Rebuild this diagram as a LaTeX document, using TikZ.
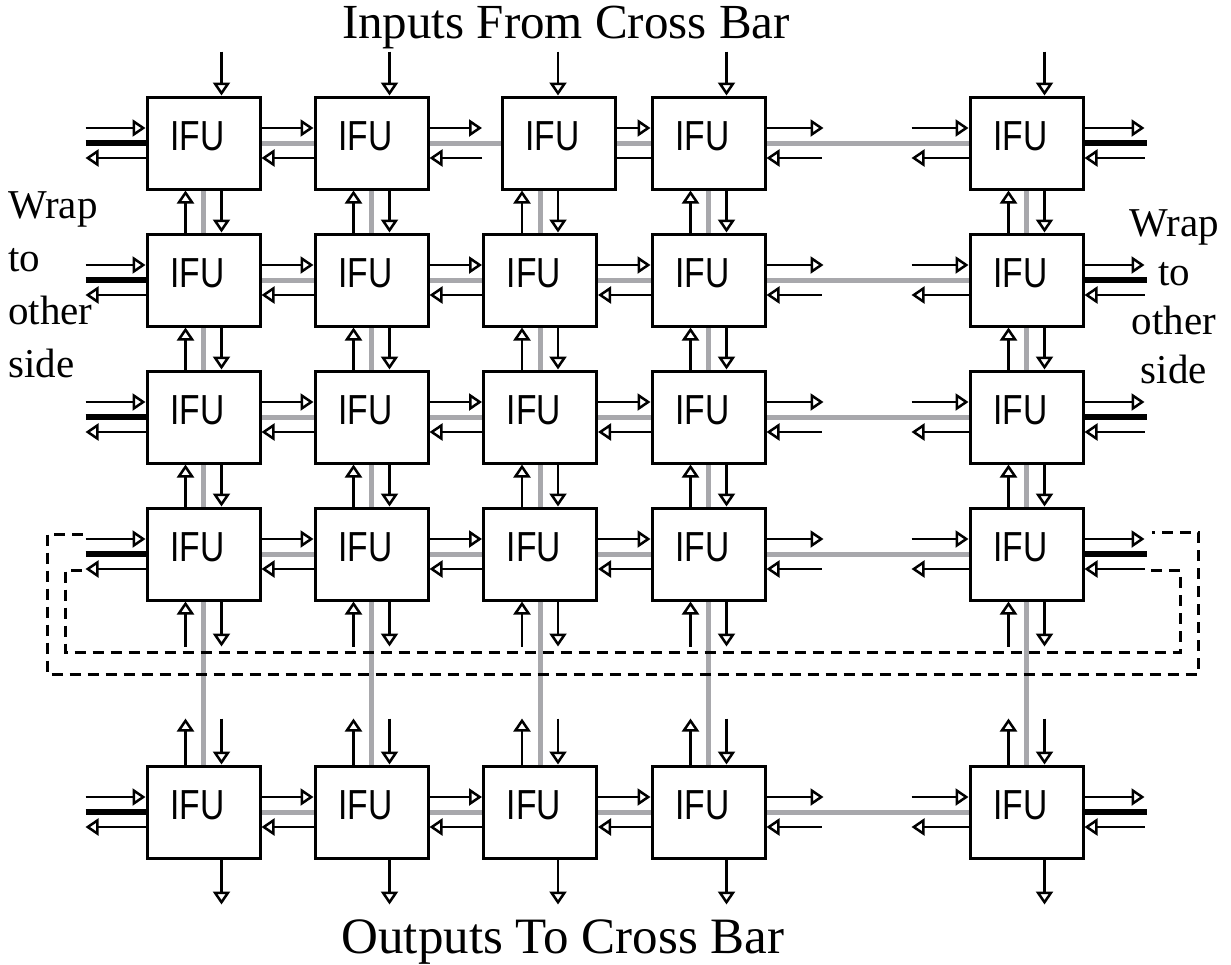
\documentclass[tikz,border=0pt]{standalone}
\usepackage{fontspec}
\setmainfont{Liberation Serif}
\newfontfamily\ifufont[FakeStretch=0.8]{Liberation Sans}
\usetikzlibrary{arrows.meta,backgrounds}
\definecolor{busgray}{RGB}{168,168,172}

\begin{document}
\begin{tikzpicture}[x=1pt,y=-1pt,
  ifu/.style={draw,line width=3pt,fill=white,minimum width=113pt,minimum height=92pt,
    inner sep=0pt,text depth=14pt,font=\ifufont\fontsize{42}{42}\selectfont},
  ghost/.style={minimum width=113pt,minimum height=92pt,inner sep=0pt,outer sep=1.5pt},
  sig/.style={line width=2.5pt,-{Triangle[open,length=13pt,width=17pt]}},
  bus/.style={line width=5pt,busgray},
  wide/.style={line width=6pt},
  wrapline/.style={line width=3pt,dash pattern=on 11pt off 7pt}]
  \useasboundingbox (0,0) rectangle (1231,964);

  % IFU grid
  \foreach \c/\x in {1/203.5,2/371.5,4/708.5,5/1026.5}
    \node[ifu] (b1\c) at (\x,143) {IFU\hspace*{12pt}};
  \node[ghost] (b13) at (540,143) {};
  \foreach \r/\y in {2/280,3/417,4/554,5/812}
    \foreach \c/\x in {1/203.5,2/371.5,3/540,4/708.5,5/1026.5}
      \node[ifu] (b\r\c) at (\x,\y) {IFU\hspace*{12pt}};

  % gray buses
  \begin{scope}[on background layer]
    \foreach \r in {1,...,5}
      \draw[bus] (b\r1.center) -- (b\r5.center);
    \foreach \c in {1,...,5}
      \draw[bus] (b1\c.center) -- (b5\c.center);
  \end{scope}

  % horizontal links
  \foreach \r in {1,...,5} {
    \foreach \p/\q in {1/2,2/3,3/4} {
      \draw[sig] ([yshift=15pt]b\r\p.east) -- ([yshift=15pt]b\r\q.west);
      \draw[sig] ([yshift=-15pt]b\r\q.west) -- ([yshift=-15pt]b\r\p.east);
    }
    \draw[sig] ([yshift=15pt]b\r4.east) -- ([yshift=15pt,xshift=57pt]b\r4.east);
    \draw[sig] ([yshift=-15pt,xshift=55pt]b\r4.east) -- ([yshift=-15pt]b\r4.east);
    \draw[sig] ([yshift=15pt,xshift=-57pt]b\r5.west) -- ([yshift=15pt]b\r5.west);
    \draw[sig] ([yshift=-15pt]b\r5.west) -- ([yshift=-15pt,xshift=-57pt]b\r5.west);
    % edges
    \draw[sig] ([yshift=15pt,xshift=-60pt]b\r1.west) -- ([yshift=15pt]b\r1.west);
    \draw[wide] ([xshift=-60pt]b\r1.west) -- (b\r1.west);
    \draw[sig] ([yshift=-15pt]b\r1.west) -- ([yshift=-15pt,xshift=-60pt]b\r1.west);
    \draw[sig] ([yshift=15pt]b\r5.east) -- ([yshift=15pt,xshift=60pt]b\r5.east);
    \draw[wide] (b\r5.east) -- ([xshift=62pt]b\r5.east);
    \draw[sig] ([yshift=-15pt,xshift=60pt]b\r5.east) -- ([yshift=-15pt]b\r5.east);
  }

  % vertical links
  \foreach \c in {1,...,5} {
    \draw[sig] ([xshift=18pt,yshift=44pt]b1\c.north) -- ([xshift=18pt]b1\c.north);
    \foreach \p/\q in {1/2,2/3,3/4} {
      \draw[sig] ([xshift=-18pt]b\q\c.north) -- ([xshift=-18pt]b\p\c.south);
      \draw[sig] ([xshift=18pt]b\p\c.south) -- ([xshift=18pt]b\q\c.north);
    }
    \draw[sig] ([xshift=-18pt,yshift=-45pt]b4\c.south) -- ([xshift=-18pt]b4\c.south);
    \draw[sig] ([xshift=18pt]b4\c.south) -- ([xshift=18pt,yshift=-45pt]b4\c.south);
    \draw[sig] ([xshift=-18pt]b5\c.north) -- ([xshift=-18pt,yshift=46pt]b5\c.north);
    \draw[sig] ([xshift=18pt,yshift=46pt]b5\c.north) -- ([xshift=18pt]b5\c.north);
    \draw[sig] ([xshift=18pt]b5\c.south) -- ([xshift=18pt,yshift=-45pt]b5\c.south);
  }

  % wrap around
  \draw[wrapline] ([yshift=20pt,xshift=-63pt]b41.west) -| (47,674) -- (1198,674)
    |- ([yshift=22pt,xshift=67pt]b45.east);
  \draw[wrapline] ([yshift=-16pt,xshift=-64pt]b41.west) -| (65,652) -- (1180,652)
    |- ([yshift=-16pt,xshift=61pt]b45.east);

  % odd one in the first row
  \node[ifu] (b13s) at (558.5,143) {IFU\hspace*{12pt}};

  % labels
  \node[font=\fontsize{49}{49}\selectfont,anchor=base,inner sep=0pt] (title) at (566,38)
    {Inputs From Cross Bar};
  \node[font=\fontsize{51}{51}\selectfont,anchor=base,inner sep=0pt] (foot) at (563,953)
    {Outputs To Cross Bar};
  \node[font=\fontsize{41}{53}\selectfont,align=left,anchor=north west,inner sep=0pt] (wrapl)
    at (8,191) {Wrap\\to\\other\\side};
  \node[font=\fontsize{41}{49}\selectfont,align=center,anchor=north,inner sep=0pt] (wrapr)
    at (1174,209) {Wrap\\to\\other\\side};
\end{tikzpicture}
\end{document}
